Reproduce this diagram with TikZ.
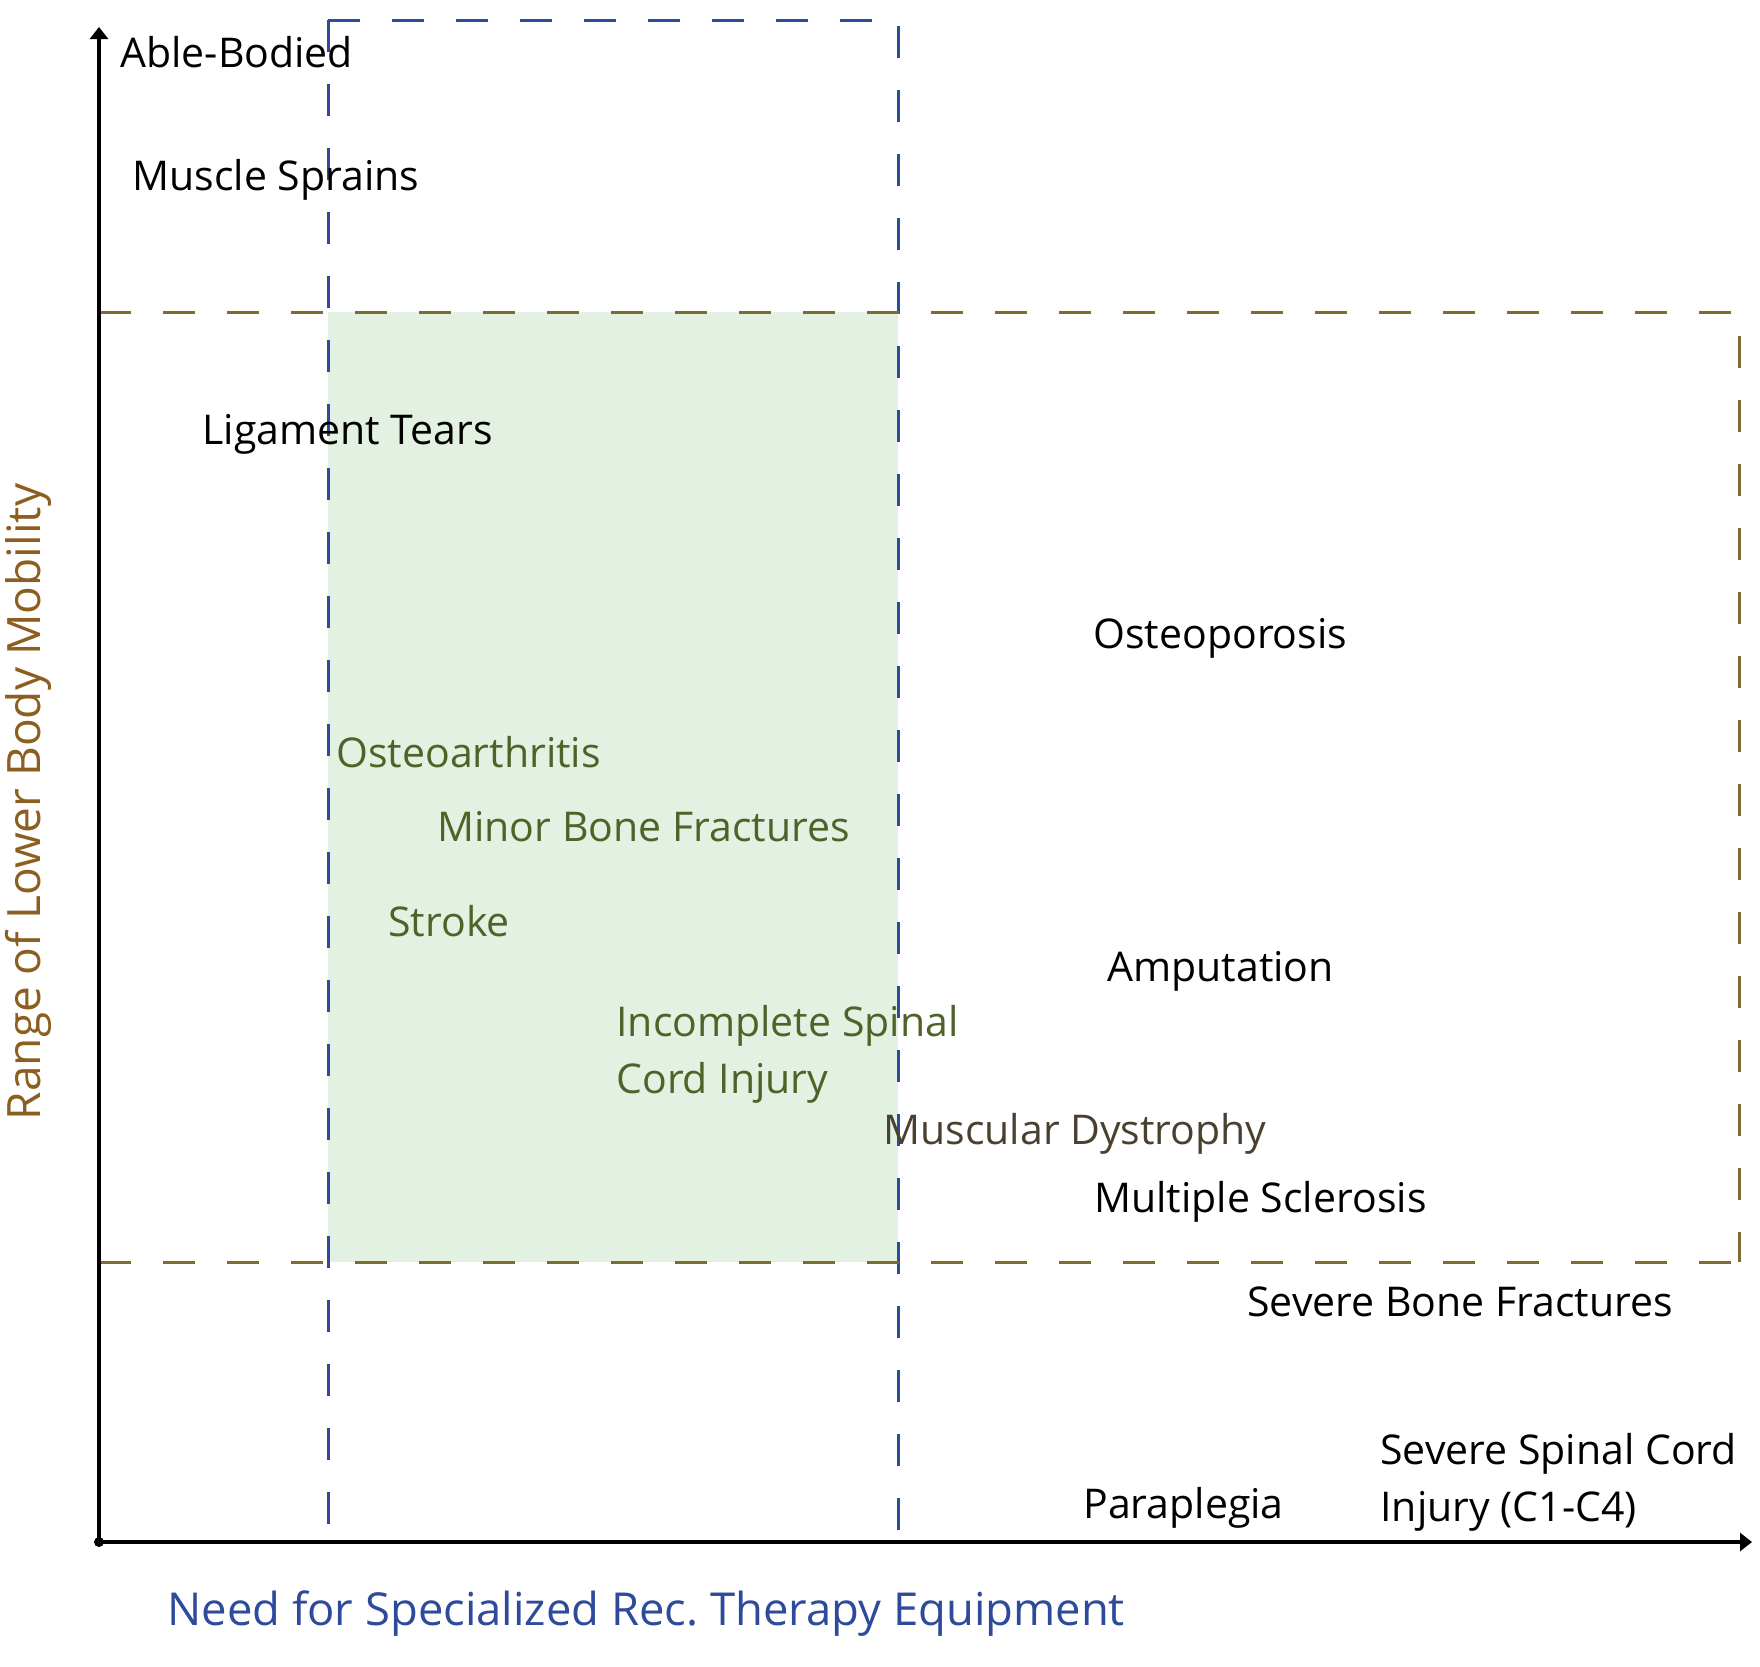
\documentclass[tikz,border=0pt]{standalone}
\usepackage{fontspec}
\setmainfont{Open Sans}
\usetikzlibrary{arrows.meta}
\definecolor{azul}{HTML}{2E4A9A}
\definecolor{marrom}{HTML}{7F6A30}
\definecolor{eixo}{HTML}{8C5E1F}
\definecolor{verde}{HTML}{4F6228}
\definecolor{fundo}{HTML}{E2F1E1}
\definecolor{cinza}{HTML}{4A4030}
\begin{document}
\begin{tikzpicture}[
  x=0.5pt, y=-0.5pt,
  font=\fontsize{20.5}{28.6}\selectfont,
  rotulo/.style={anchor=west, inner sep=0pt, align=left},
  titulo/.style={font=\fontsize{23}{28}\selectfont, inner sep=0pt},
  tracejado/.style={line width=1.5pt, dash pattern=on 16pt off 16pt},
  seta/.style={-{Triangle[length=6pt, width=9pt]}, line width=1.6pt}]
\useasboundingbox (0,0) rectangle (1760,1666);
% ---- regiao verde e caixas tracejadas
\fill[fundo] (328,312) rectangle (898,1262);
\draw[tracejado, draw=azul] (328,20) -- (328,1542);
\draw[tracejado, draw=azul] (328,20) -- (898,20) -- (898,1542);
\draw[tracejado, draw=marrom] (99,312) -- (1739,312) -- (1739,1262);
\draw[tracejado, draw=marrom] (99,1262) -- (1739,1262);
% ---- eixos
\coordinate (o) at (99,1542);
\coordinate (ytopo) at (99,27);
\coordinate (xfim) at (1752,1542);
\draw[seta] (o) -- (ytopo);
\draw[seta] (o) -- (xfim);
\fill (o) circle (2.5pt);
\node[text=azul, titulo, font=\fontsize{22.7}{28}\selectfont, anchor=west] (xlab) at (167,1614) {Need for Specialized Rec.\ Therapy Equipment};
\node[text=eixo, titulo, rotate=90] (ylab) at (28,802) {Range of Lower Body Mobility};
% ---- condicoes
\node[rotulo] (ab) at (120,52) {Able-Bodied};
\node[rotulo] (ms) at (132,180) {Muscle Sprains};
\node[rotulo] (lt) at (202,434) {Ligament Tears};
\node[rotulo] (op) at (1093,638) {Osteoporosis};
\node[rotulo, text=verde] (oa) at (336,752) {Osteoarthritis};
\node[rotulo, text=verde] (mbf) at (437,827) {Minor Bone Fractures};
\node[rotulo, text=verde] (st) at (388,921) {Stroke};
\node[rotulo] (am) at (1107,971) {Amputation};
\node[rotulo, text=verde] (isc) at (616,1054) {Incomplete Spinal\\Cord Injury};
\node[rotulo, text=cinza] (md) at (883,1134) {Muscular Dystrophy};
\node[rotulo] (msc) at (1094,1202) {Multiple Sclerosis};
\node[rotulo] (sbf) at (1247,1302) {Severe Bone Fractures};
\node[rotulo] (pp) at (1083,1508) {Paraplegia};
\node[rotulo] (ssc) at (1380,1482) {Severe Spinal Cord\\Injury (C1-C4)};
\end{tikzpicture}
\end{document}
